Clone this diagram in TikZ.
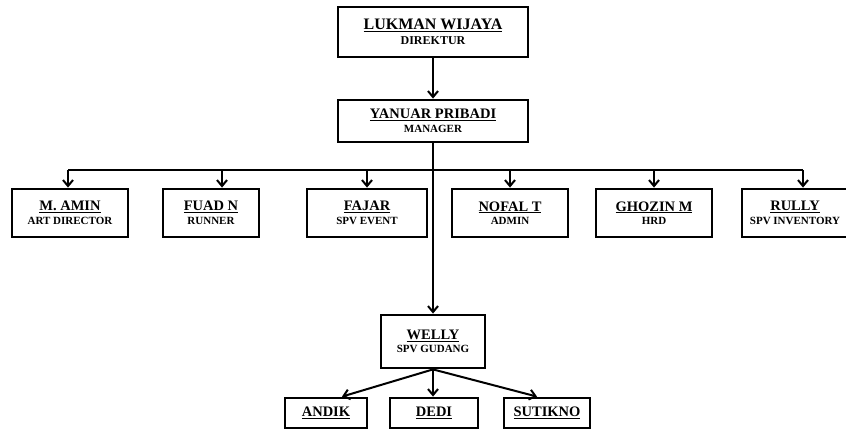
\documentclass[tikz,border=0pt]{standalone}
\usepackage{fontspec}
\setmainfont{Liberation Serif}
\usetikzlibrary{arrows.meta}
\tikzset{
  box/.style = {draw, line width = 2.8pt, align = center, inner sep = 0pt,
                font = \bfseries\fontsize{14.5}{13.5}\selectfont},
  arr/.style = {line width = 2pt, -{Straight Barb[length=6pt,width=10pt]}}
}
\newcommand{\jab}[1]{{\fontsize{11}{13.5}\selectfont #1}}
\begin{document}
\begin{tikzpicture}[x = 1pt, y = -1pt]
\useasboundingbox (0,0) rectangle (846,430);
\node [box, minimum width = 190pt, minimum height = 50pt,
       font = \bfseries\fontsize{16}{15.5}\selectfont] (lukman) at (433,32)
      {\underline{LUKMAN WIJAYA}\\{\fontsize{12}{15.5}\selectfont DIREKTUR}};
\node [box, minimum width = 190pt, minimum height = 42pt] (yanuar) at (433,121)
      {\underline{YANUAR PRIBADI}\\\jab{MANAGER}};
\node [box, minimum width = 116pt, minimum height = 48pt] (amin) at (70,213)
      {\underline{M. AMIN}\\\jab{ART DIRECTOR}};
\node [box, minimum width = 96pt, minimum height = 48pt] (fuad) at (211,213)
      {\underline{FUAD N}\\\jab{RUNNER}};
\node [box, minimum width = 120pt, minimum height = 48pt] (fajar) at (367,213)
      {\underline{FAJAR}\\\jab{SPV EVENT}};
\node [box, minimum width = 116pt, minimum height = 48pt] (nofal) at (510,213)
      {\underline{NOFAL T}\\\jab{ADMIN}};
\node [box, minimum width = 116pt, minimum height = 48pt] (ghozin) at (654,213)
      {\underline{GHOZIN M}\\\jab{HRD}};
\node [box, minimum width = 106pt, minimum height = 48pt] (rully) at (795,213)
      {\underline{RULLY}\\\jab{SPV INVENTORY}};
\node [box, minimum width = 104pt, minimum height = 53pt] (welly) at (433,341.5)
      {\underline{WELLY}\\\jab{SPV GUDANG}};
\node [box, minimum width = 82pt, minimum height = 30pt] (andik) at (326,413)
      {\underline{ANDIK}};
\node [box, minimum width = 88pt, minimum height = 30pt] (dedi) at (434,413)
      {\underline{DEDI}};
\node [box, minimum width = 86pt, minimum height = 30pt] (sutikno) at (547,413)
      {\underline{SUTIKNO}};
\coordinate (bus) at (0,170);
\draw [arr] (lukman) -- (yanuar);
\draw [arr] (yanuar.south) -- (yanuar.south |- welly.north);
\draw [line width = 2pt] ([xshift=-2pt]amin.north |- bus) -- ([xshift=8pt]rully.north |- bus);
\draw [arr] ([xshift=-2pt]amin.north |- bus) -- ([xshift=-2pt]amin.north);
\draw [arr] ([xshift=11pt]fuad.north |- bus) -- ([xshift=11pt]fuad.north);
\foreach \n in {fajar, nofal, ghozin} {
  \draw [arr] (\n.north |- bus) -- (\n.north);
}
\draw [arr] ([xshift=8pt]rully.north |- bus) -- ([xshift=8pt]rully.north);
\draw [arr] (welly.south) -- ([xshift=16pt]andik.north);
\draw [arr] (welly.south) -- (welly.south |- dedi.north);
\draw [arr] (welly.south) -- ([xshift=-10pt]sutikno.north);
\end{tikzpicture}
\end{document}
